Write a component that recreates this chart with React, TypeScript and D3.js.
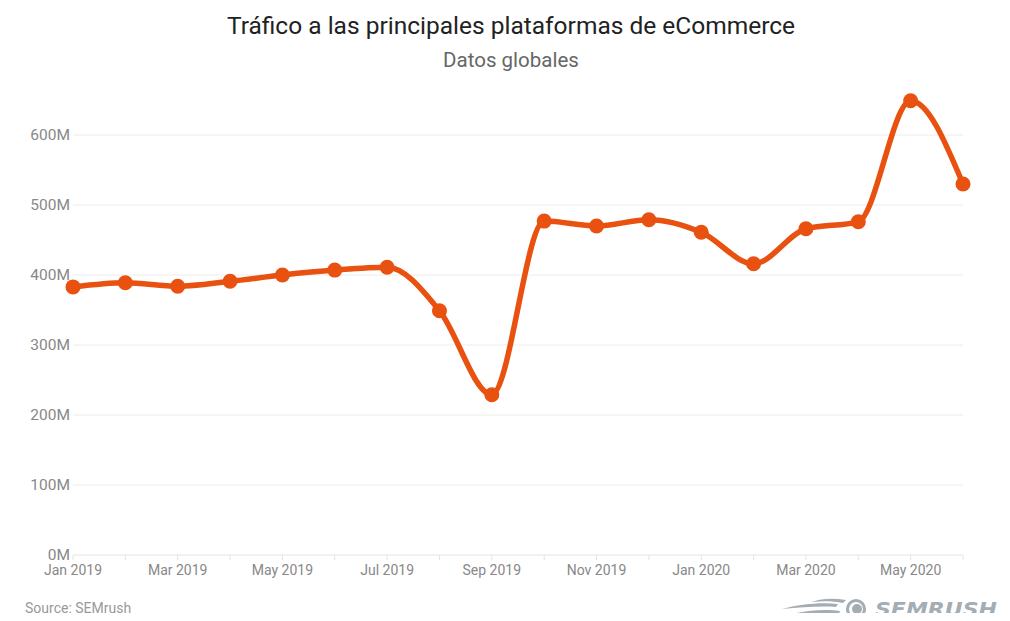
import React, { useEffect, useRef } from 'react'
import * as d3 from 'd3'

const months = [
  'Jan 2019', 'Feb 2019', 'Mar 2019', 'Apr 2019', 'May 2019', 'Jun 2019',
  'Jul 2019', 'Aug 2019', 'Sep 2019', 'Oct 2019', 'Nov 2019', 'Dec 2019',
  'Jan 2020', 'Feb 2020', 'Mar 2020', 'Apr 2020', 'May 2020', 'Jun 2020',
]
// visits, millions
const traffic = [383, 389, 384, 391, 400, 407, 411, 349, 229, 477, 470, 479, 461, 416, 466, 476, 649, 530]
const yTicks = [0, 100, 200, 300, 400, 500, 600]

const W = 1010
const H = 621

export default function App() {
  const svgRef = useRef<SVGSVGElement>(null)

  useEffect(() => {
    if (!svgRef.current) return
    const svg = d3.select(svgRef.current)
    svg.selectAll('*').remove()

    const margin = { top: 135, right: 47, bottom: 66, left: 73 }
    const innerW = W - margin.left - margin.right
    const font = 'Roboto, "Noto Sans", sans-serif'

    const x = d3.scalePoint<string>().domain(months).range([margin.left, W - margin.right])
    const y = d3.scaleLinear().domain([0, 600]).range([H - margin.bottom, margin.top])

    svg.append('rect').attr('width', W).attr('height', H).attr('fill', '#fff')

    // title
    svg.append('text')
      .attr('x', 511).attr('y', 34)
      .attr('text-anchor', 'middle')
      .attr('font-family', font).attr('font-size', 24.5)
      .attr('fill', '#222')
      .text('Tráfico a las principales plataformas de eCommerce')
    svg.append('text')
      .attr('x', 511).attr('y', 67)
      .attr('text-anchor', 'middle')
      .attr('font-family', font).attr('font-size', 20.5)
      .attr('fill', '#666')
      .text('Datos globales')

    // grid
    const grid = svg.append('g')
    grid.selectAll('line')
      .data(yTicks)
      .join('line')
      .attr('x1', margin.left).attr('x2', margin.left + innerW)
      .attr('y1', (d) => y(d)).attr('y2', (d) => y(d))
      .attr('stroke', (d) => (d === 0 ? '#e3e3e3' : '#ececec'))
      .attr('stroke-width', 1)

    grid.selectAll('text')
      .data(yTicks)
      .join('text')
      .attr('x', margin.left - 3).attr('y', (d) => y(d) + 5)
      .attr('text-anchor', 'end')
      .attr('font-family', font).attr('font-size', 15.5)
      .attr('fill', '#888')
      .text((d) => `${d}M`)

    // x axis ticks
    const xa = svg.append('g')
    xa.selectAll('line')
      .data(months)
      .join('line')
      .attr('x1', (d) => x(d)!).attr('x2', (d) => x(d)!)
      .attr('y1', y(0)).attr('y2', y(0) + 5)
      .attr('stroke', '#e3e3e3')
    xa.selectAll('text')
      .data(months.filter((_, i) => i % 2 === 0))
      .join('text')
      .attr('x', (d) => x(d)!).attr('y', y(0) + 20)
      .attr('text-anchor', 'middle')
      .attr('font-family', font).attr('font-size', 14)
      .attr('fill', '#888')
      .text((d) => d)

    // line
    const orange = '#e8510f'
    const line = d3.line<number>()
      .x((_, i) => x(months[i])!)
      .y((d) => y(d))
      .curve(d3.curveMonotoneX)

    svg.append('path')
      .datum(traffic)
      .attr('fill', 'none')
      .attr('stroke', orange)
      .attr('stroke-width', 5.5)
      .attr('stroke-linejoin', 'round')
      .attr('d', line)

    svg.append('g').selectAll('circle')
      .data(traffic)
      .join('circle')
      .attr('cx', (_, i) => x(months[i])!)
      .attr('cy', (d) => y(d))
      .attr('r', 7.5)
      .attr('fill', orange)

    // footer
    svg.append('text')
      .attr('x', 25).attr('y', 613)
      .attr('font-family', font).attr('font-size', 14)
      .attr('fill', '#999')
      .text('Source: SEMrush')

    const logo = svg.append('g').attr('fill', '#a3adb3')
    // flame swooshes
    logo.append('path')
      .attr('d', 'M782,609 C800,604 822,602 838,604 L836,607 C822,606 802,607 782,609 Z')
    logo.append('path')
      .attr('d', 'M792,614 C808,610 826,609 840,611 L839,614 C826,613 810,613 792,614 Z')
    logo.append('path')
      .attr('d', 'M812,602 C822,598 834,598 846,600 L843,603 C833,601 822,601 812,602 Z')
    logo.append('circle').attr('cx', 856).attr('cy', 609).attr('r', 10)
    logo.append('circle').attr('cx', 856).attr('cy', 609).attr('r', 7).attr('fill', '#fff')
    logo.append('circle').attr('cx', 857).attr('cy', 609).attr('r', 5)
    logo.append('text')
      .attr('x', 875).attr('y', 616)
      .attr('font-family', '"DejaVu Sans", sans-serif')
      .attr('font-weight', 'bold')
      .attr('font-style', 'italic')
      .attr('font-size', 19)
      .attr('textLength', 122)
      .attr('lengthAdjust', 'spacingAndGlyphs')
      .text('SEMRUSH')
  }, [])

  return (
    <div style={{ width: W, height: H, margin: -8 }}>
      <svg ref={svgRef} width={W} height={H} style={{ display: 'block' }} />
    </div>
  )
}
